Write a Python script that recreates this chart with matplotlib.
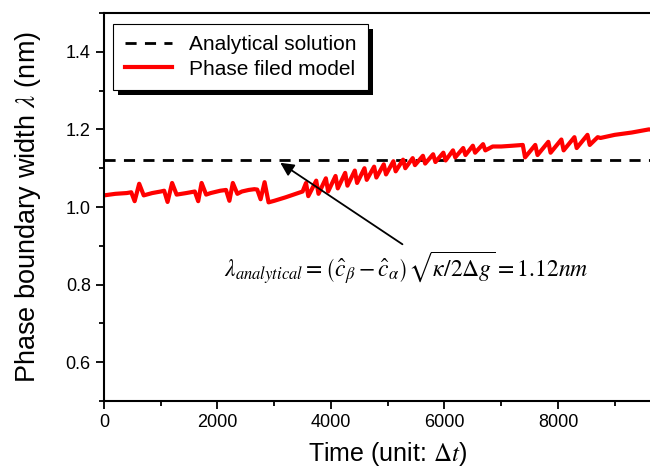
import matplotlib
matplotlib.use("Agg")
import matplotlib.pyplot as plt
from matplotlib.ticker import MultipleLocator, FixedLocator
from matplotlib.patches import Rectangle
from matplotlib.transforms import IdentityTransform

plt.rcParams['font.family'] = ['Liberation Sans', 'DejaVu Sans']
plt.rcParams['mathtext.fontset'] = 'stix'

# Data
analytical_value = 1.12
time_steps = [0, 200, 400, 480, 540, 620, 700, 850, 1000, 1060, 1120, 1200, 1280,
              1450, 1600, 1660, 1720, 1800, 1880, 2050, 2150, 2210, 2270, 2350, 2430, 2550, 2650,
              2700, 2760, 2830, 2900, 3000, 3200, 3400, 3500,
              3560, 3600, 3740, 3780, 3910, 3950, 4080, 4120, 4250, 4290, 4420, 4460,
              4590, 4630, 4760, 4800, 4930, 4970,
              5100, 5140, 5270, 5310, 5440, 5480, 5620, 5660, 5800, 5840, 5980, 6020,
              6150, 6190, 6330, 6370, 6500, 6540, 6680, 6720, 6850, 7000, 7200, 7380,
              7420, 7600, 7640, 7830, 7870, 8060, 8100, 8290, 8330, 8520, 8560, 8700,
              8750, 9000, 9300, 9600, 9800]
width_values = [1.030, 1.034, 1.036, 1.038, 1.015, 1.060, 1.030, 1.036, 1.040, 1.042, 1.013, 1.062, 1.032,
                1.036, 1.040, 1.015, 1.062, 1.032, 1.036, 1.042, 1.044, 1.016, 1.062, 1.034, 1.040, 1.044, 1.046,
                1.045, 1.020, 1.064, 1.012, 1.016, 1.025, 1.035, 1.040,
                1.062, 1.028, 1.068, 1.034, 1.074, 1.040, 1.080, 1.048, 1.088, 1.055, 1.094, 1.062,
                1.100, 1.070, 1.104, 1.076, 1.110, 1.084,
                1.118, 1.092, 1.122, 1.100, 1.126, 1.108, 1.132, 1.112, 1.136, 1.116, 1.140, 1.120,
                1.146, 1.128, 1.152, 1.134, 1.158, 1.140, 1.162, 1.146, 1.156, 1.156, 1.158, 1.160,
                1.128, 1.160, 1.134, 1.168, 1.140, 1.174, 1.146, 1.180, 1.152, 1.186, 1.160, 1.180,
                1.178, 1.186, 1.192, 1.200, 1.198]
x_major_ticks = [0, 2000, 4000, 6000, 8000]

fig = plt.figure(figsize=(6.5, 4.72), dpi=100)
ax = fig.add_axes([0.16, 0.1504, 0.873, 0.822])

ax.axhline(analytical_value, color='black', lw=2.0, ls=(0, (4, 3)), label='Analytical solution')
ax.plot(time_steps, width_values, color='#ff0000', lw=3.0, label='Phase filed model')

ax.set_xlim(0, 10000)
ax.set_ylim(0.5, 1.5)
ax.xaxis.set_major_locator(FixedLocator(x_major_ticks))
ax.xaxis.set_minor_locator(MultipleLocator(1000))
ax.yaxis.set_major_locator(MultipleLocator(0.2))
ax.yaxis.set_minor_locator(MultipleLocator(0.1))
ax.tick_params(which='both', direction='out', width=1.3, labelsize=13, top=False, right=False)
ax.tick_params(which='major', length=6)
ax.tick_params(which='minor', length=3.5)
for s in ax.spines.values():
    s.set_linewidth(1.5)

ax.set_xlabel(r'Time (unit: $\Delta t$)', fontsize=18, labelpad=6)
ax.set_ylabel(r'Phase boundary width $\lambda$ (nm)', fontsize=19.5, labelpad=16)

leg = ax.legend(loc='upper left', bbox_to_anchor=(0.016, 0.972), borderaxespad=0,
                fontsize=15, fancybox=False, edgecolor='black', framealpha=1,
                handlelength=2.3, handletextpad=0.8,
                borderpad=0.55, labelspacing=0.25)
leg.get_frame().set_linewidth(0.8)

ax.annotate('', xy=(3066, 1.118), xytext=(5300, 0.90),
            arrowprops=dict(arrowstyle='-|>', color='black', lw=1.3, mutation_scale=20))
ax.text(5330, 0.841,
        r'$\lambda_{analytical}=\left(\hat{c}_{\beta}-\hat{c}_{\alpha}\right)\sqrt{\kappa/2\Delta g}=1.12nm$',
        fontsize=17, ha='center', va='center')

fig.canvas.draw()
bb = leg.get_window_extent()
shadow = Rectangle((bb.x0 + 5, bb.y0 - 5), bb.width, bb.height, transform=IdentityTransform(),
                   facecolor='black', edgecolor='none', zorder=leg.get_zorder() - 0.1, clip_on=False)
ax.add_artist(shadow)

fig.savefig('out.png', dpi=100)
